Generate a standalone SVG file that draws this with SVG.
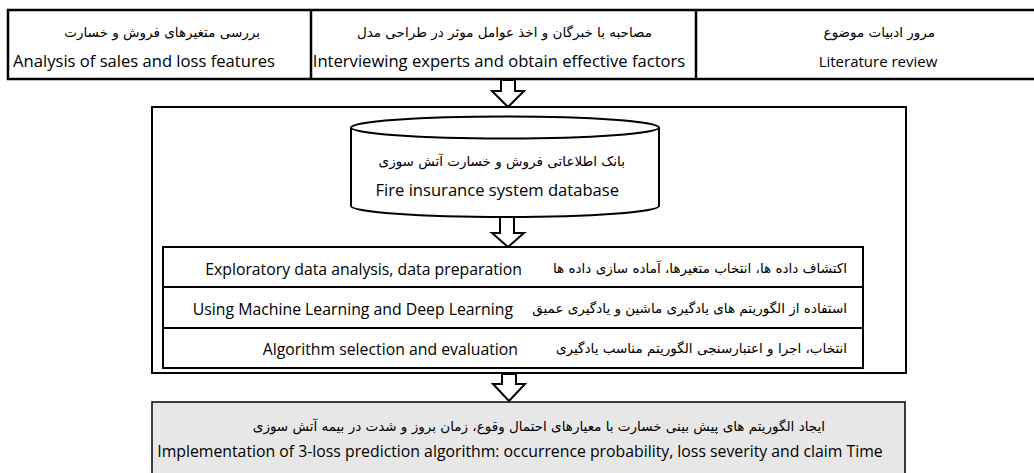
<svg xmlns="http://www.w3.org/2000/svg" width="1034" height="473" viewBox="0 0 1034 473">
<style>
.box{fill:#fff;stroke:#000;stroke-width:2.5}
.frame{fill:#fff;stroke:#000;stroke-width:2}
.line{stroke:#000;stroke-width:2;fill:none}
.gray{fill:#e7e7e7;stroke:#000;stroke-width:1.5}
.arrow{fill:#fff;stroke:#000;stroke-width:2;stroke-linejoin:miter}
.en{font-family:"Open Sans","Liberation Sans",Arial,sans-serif;font-size:15.8px;fill:#000}
.fa{font-family:"DejaVu Sans","Noto Sans",sans-serif;font-size:13.5px;fill:#000}
.big{font-size:16.6px}
.m{text-anchor:middle}
.e{text-anchor:end}
</style>
<rect width="1034" height="473" fill="#fff"/>
<g id="top-row">
  <rect class="box" x="8" y="10" width="1040" height="69"/>
  <line class="line" x1="311" y1="10" x2="311" y2="79" style="stroke-width:2.5"/>
  <line class="line" x1="696" y1="10" x2="696" y2="79" style="stroke-width:2.5"/>
</g>
<g id="node-analysis">
  <text class="fa e" x="260" y="37">بررسی متغیرهای فروش و خسارت</text>
  <text class="en big m" x="144" y="66.5">Analysis of sales and loss features</text>
</g>
<g id="node-interview">
  <text class="fa e" x="652" y="37">مصاحبه با خبرگان و اخذ عوامل موثر در طراحی مدل</text>
  <text class="en big m" x="499" y="66.5">Interviewing experts and obtain effective factors</text>
</g>
<g id="node-literature">
  <text class="fa e" x="935" y="37">مرور ادبیات موضوع</text>
  <text class="en m" x="878" y="66.5" style="font-size:15px">Literature review</text>
</g>
<g id="frame">
  <rect class="frame" x="152" y="107" width="754" height="266"/>
</g>
<g id="node-database">
  <path class="frame" d="M351,127.5 L351,206 A154,11 0 0 0 659,206 L659,127.5"/>
  <ellipse class="frame" cx="505" cy="127.5" rx="154" ry="11"/>
  <text class="fa e" x="625" y="166">بانک اطلاعاتی فروش و خسارت آتش سوزی</text>
  <text class="en big e" x="619" y="195.5">Fire insurance system database</text>
</g>
<g id="node-steps">
  <rect class="frame" x="163" y="247" width="700" height="121"/>
  <line class="line" x1="163" y1="287" x2="863" y2="287"/>
  <line class="line" x1="163" y1="328" x2="863" y2="328"/>
  <text class="en e" x="522" y="274.5">Exploratory data analysis, data preparation</text>
  <text class="fa e" x="847" y="273">اکتشاف داده ها، انتخاب متغیرها، آماده سازی داده ها</text>
  <text class="en e" x="513" y="314.5">Using Machine Learning and Deep Learning</text>
  <text class="fa e" x="847" y="313">استفاده از الگوریتم های یادگیری ماشین و یادگیری عمیق</text>
  <text class="en e" x="518" y="354.5">Algorithm selection and evaluation</text>
  <text class="fa e" x="847" y="353">انتخاب، اجرا و اعتبارسنجی الگوریتم مناسب یادگیری</text>
</g>
<g id="node-implementation">
  <rect class="gray" x="152" y="402" width="753" height="90"/>
  <text class="fa e" x="825" y="431">ایجاد الگوریتم های پیش بینی خسارت با معیارهای احتمال وقوع، زمان بروز و شدت در بیمه آتش سوزی</text>
  <text class="en m" x="520" y="456.5">Implementation of 3-loss prediction algorithm: occurrence probability, loss severity and claim Time</text>
</g>
<g id="connectors">
  <polygon class="arrow" points="501,80 515,80 515,91 524,91 508,107 492,91 501,91"/>
  <polygon class="arrow" points="500,217 514,217 514,233 524,233 508,247 492,233 500,233"/>
  <polygon class="arrow" points="502,374 516,374 516,384 525,384 509,401 493,384 502,384"/>
</g>
</svg>
